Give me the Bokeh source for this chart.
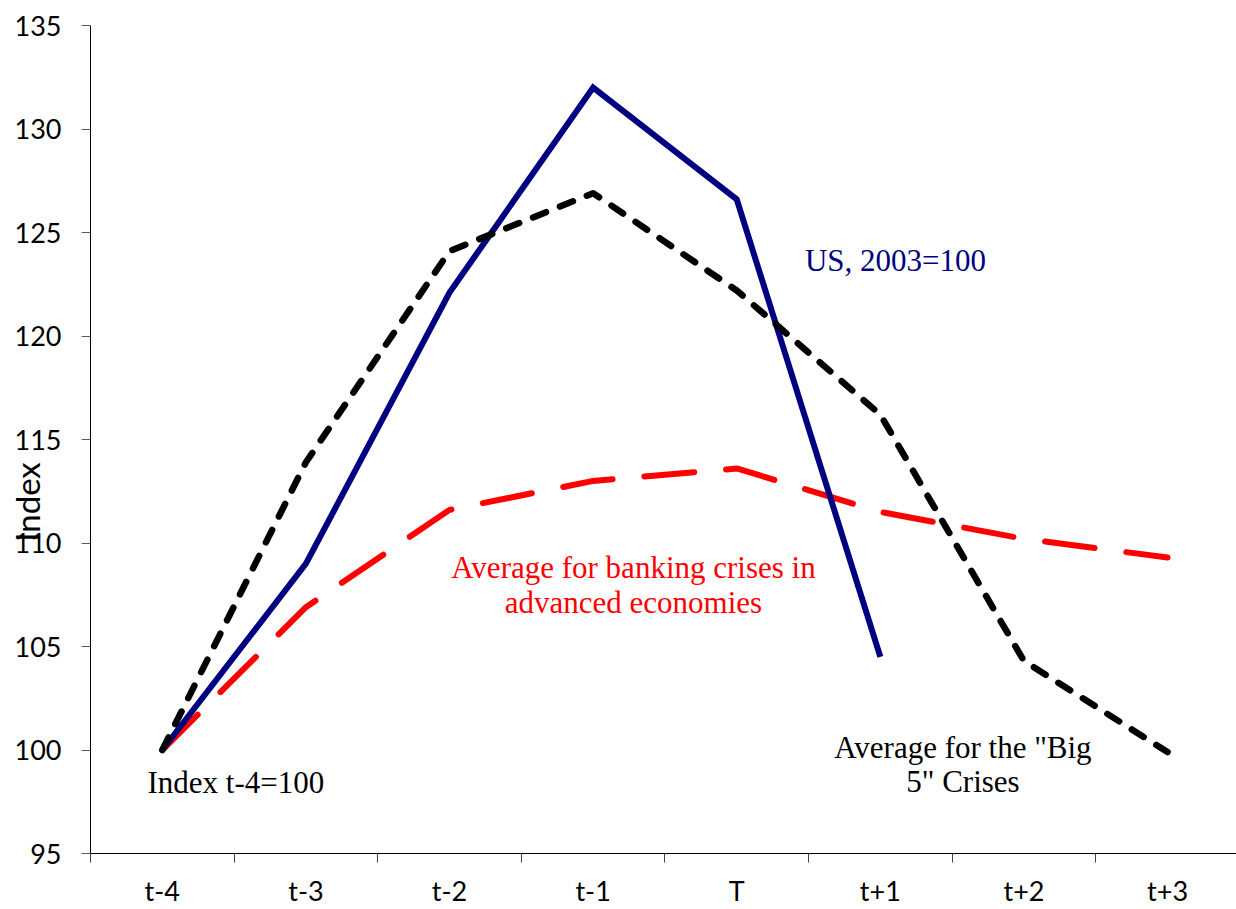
import math
from bokeh.plotting import figure
from bokeh.models import Range1d, FixedTicker, Label
from bokeh.embed import file_html
from bokeh.resources import INLINE

categories = ["t-4", "t-3", "t-2", "t-1", "T", "t+1", "t+2", "t+3"]
us_2003 = [100.0, 109.0, 122.1, 132.0, 126.6, 104.5]
big5_avg = [100.0, 113.9, 124.1, 126.9, 122.2, 116.2, 104.3, 99.9]
adv_avg = [100.0, 106.9, 111.6, 113.0, 113.6, 111.5, 110.2, 109.3]
y_ticks = [95, 100, 105, 110, 115, 120, 125, 130, 135]

xpos = [i + 0.5 for i in range(len(categories))]

p = figure(width=1236, height=909, output_backend="svg", toolbar_location=None,
           x_range=Range1d(0, 7.98), y_range=Range1d(95, 135),
           min_border_left=90, min_border_right=0, min_border_top=25, min_border_bottom=55)
p.outline_line_color = None
p.xgrid.visible = False
p.ygrid.visible = False
p.background_fill_color = "white"

# lines
p.line(xpos, adv_avg, line_color="#FF0000", line_width=6, line_dash="50 32",
       line_cap="round", line_join="round")
p.line(xpos[:len(us_2003)], us_2003, line_color="#000080", line_width=6,
       line_join="miter")
p.line(xpos, big5_avg, line_color="#000000", line_width=6.5, line_dash="14 15",
       line_cap="round", line_join="round")

tick_font = "Lato"
xa = p.xaxis[0]
xa.ticker = FixedTicker(ticks=xpos, minor_ticks=list(range(len(categories))))
xa.major_label_overrides = {x: c for x, c in zip(xpos, categories)}
xa.major_tick_out = 0
xa.major_tick_in = 0
xa.minor_tick_out = 9
xa.minor_tick_in = 0
xa.minor_tick_line_color = "#404040"
xa.axis_line_color = "black"
xa.major_label_text_font = tick_font
xa.major_label_text_font_size = "27px"
xa.major_label_text_color = "black"
xa.major_label_standoff = 11

ya = p.yaxis[0]
ya.ticker = FixedTicker(ticks=y_ticks, minor_ticks=[])
ya.major_tick_out = 9
ya.major_tick_in = 0
ya.major_tick_line_color = "#595959"
ya.axis_line_color = "black"
ya.major_label_text_font = tick_font
ya.major_label_text_font_size = "27px"
ya.major_label_text_color = "black"
ya.major_label_standoff = 20
# trailing wide spaces push the visible word below the axis centre, as in the original
ya.axis_label = "Index" + "\u2003" * 3 + "\u00a0" * 6
ya.axis_label_text_font = tick_font
ya.axis_label_text_font_size = "33px"
ya.axis_label_text_font_style = "normal"
ya.axis_label_text_color = "black"
ya.axis_label_standoff = -35

serif = "Liberation Serif"
def ann(x, y, txt, color, align):
    p.add_layout(Label(x=x, y=y, text=txt, text_align=align, text_baseline="alphabetic",
                       text_font=serif, text_font_size="31px", text_color=color))

ann(4.975, 123.66, "US, 2003=100", "#000080", "left")
ann(3.781, 108.80, "Average for banking crises in", "#FF0000", "center")
ann(3.781, 107.11, "advanced economies", "#FF0000", "center")
ann(0.397, 98.42, "Index t-4=100", "black", "left")
ann(6.075, 100.11, "Average for the \"Big", "black", "center")
ann(6.075, 98.47, "5\" Crises", "black", "center")

open("out.html", "w").write(file_html(p, INLINE))
